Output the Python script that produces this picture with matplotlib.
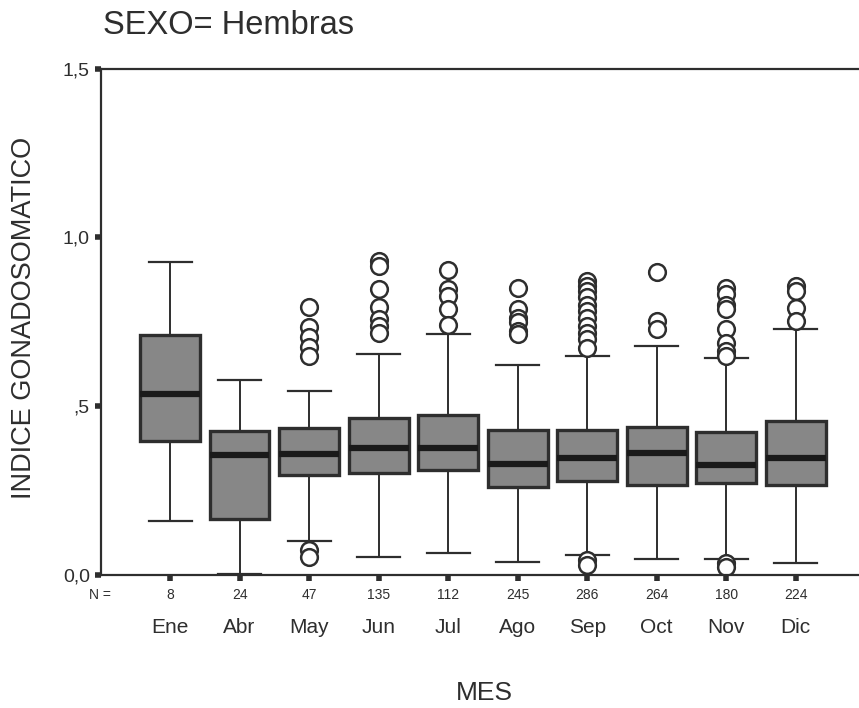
import matplotlib.pyplot as plt
from matplotlib.ticker import FuncFormatter

plt.rcParams['font.family'] = ['Liberation Sans', 'DejaVu Sans']

# monthly summary of the gonadosomatic index (females)
meses = ['Ene', 'Abr', 'May', 'Jun', 'Jul', 'Ago', 'Sep', 'Oct', 'Nov', 'Dic']
n_obs = [8, 24, 47, 135, 112, 245, 286, 264, 180, 224]
bigote_inf = [0.160, 0.003, 0.100, 0.052, 0.066, 0.037, 0.059, 0.047, 0.047, 0.035]
q1 = [0.397, 0.165, 0.297, 0.302, 0.312, 0.262, 0.279, 0.267, 0.272, 0.265]
mediana = [0.535, 0.355, 0.358, 0.375, 0.375, 0.329, 0.346, 0.361, 0.327, 0.346]
q3 = [0.710, 0.425, 0.435, 0.464, 0.475, 0.429, 0.429, 0.439, 0.423, 0.455]
bigote_sup = [0.928, 0.577, 0.546, 0.655, 0.713, 0.621, 0.650, 0.678, 0.643, 0.730]
atipicos = [
    [],
    [],
    [0.795, 0.735, 0.705, 0.675, 0.648, 0.074, 0.054],
    [0.930, 0.916, 0.846, 0.795, 0.757, 0.737, 0.718],
    [0.904, 0.846, 0.826, 0.789, 0.740],
    [0.851, 0.789, 0.762, 0.748, 0.723, 0.713],
    [0.871, 0.856, 0.841, 0.822, 0.800, 0.782, 0.762, 0.737, 0.718, 0.698,
     0.673, 0.045, 0.030],
    [0.896, 0.752, 0.728],
    [0.851, 0.832, 0.800, 0.787, 0.728, 0.688, 0.663, 0.648, 0.035, 0.025],
    [0.856, 0.841, 0.792, 0.752],
]

stats = []
for i, m in enumerate(meses):
    stats.append({'label': m, 'whislo': bigote_inf[i], 'q1': q1[i],
                  'med': mediana[i], 'q3': q3[i], 'whishi': bigote_sup[i],
                  'fliers': atipicos[i]})

ink = '#2e2e2e'
fig = plt.figure(figsize=(8.59, 7.08), dpi=100)
ax = fig.add_axes([0.1176, 0.1879, 0.8824, 0.7153])

pos = list(range(1, len(meses) + 1))
ax.bxp(stats, positions=pos, widths=0.86, patch_artist=True,
       boxprops=dict(facecolor='#878787', edgecolor=ink, linewidth=2.4),
       medianprops=dict(color='#1a1a1a', linewidth=4.5, solid_capstyle='butt'),
       whiskerprops=dict(color=ink, linewidth=1.4),
       capprops=dict(color=ink, linewidth=1.6),
       capwidths=0.62,
       flierprops=dict(marker='o', markersize=12, markerfacecolor='white',
                       markeredgecolor=ink, markeredgewidth=1.8))

ax.set_xlim(0.007, 10.91)
ax.set_ylim(0, 1.5)
ax.set_yticks([0, 0.5, 1.0, 1.5])
ax.yaxis.set_major_formatter(FuncFormatter(
    lambda v, p: ',5' if abs(v - 0.5) < 1e-9 else f'{v:.1f}'.replace('.', ',')))
ax.set_xticks(pos)
ax.set_xticklabels([])

for s in ['left', 'bottom', 'top']:
    ax.spines[s].set_color(ink)
    ax.spines[s].set_linewidth(1.6)
ax.spines['right'].set_visible(False)
ax.tick_params(axis='both', direction='out', length=4, width=4, color=ink)
ax.tick_params(axis='y', labelsize=14, labelcolor=ink, pad=4)

# sample sizes and month names under the axis
for p, n, m in zip(pos, n_obs, meses):
    ax.text(p, -0.06, str(n), ha='center', va='center', fontsize=10, color=ink)
    ax.text(p, -0.155, m, ha='center', va='center', fontsize=15, color=ink)
fig.text(100 / 859, 1 - 595 / 708, 'N =', ha='center', va='center',
         fontsize=10, color=ink)

fig.text(484 / 859, 1 - 693 / 708, 'MES', ha='center', va='center',
         fontsize=19, color=ink)
fig.text(24 / 859, 1 - 318 / 708, 'INDICE GONADOSOMATICO', rotation=90,
         ha='center', va='center', fontsize=19.5, color=ink)
fig.text(103 / 859, 1 - 26 / 708, 'SEXO= Hembras', ha='left', va='center',
         fontsize=23.5, color=ink)

fig.savefig('out.png', dpi=100)
